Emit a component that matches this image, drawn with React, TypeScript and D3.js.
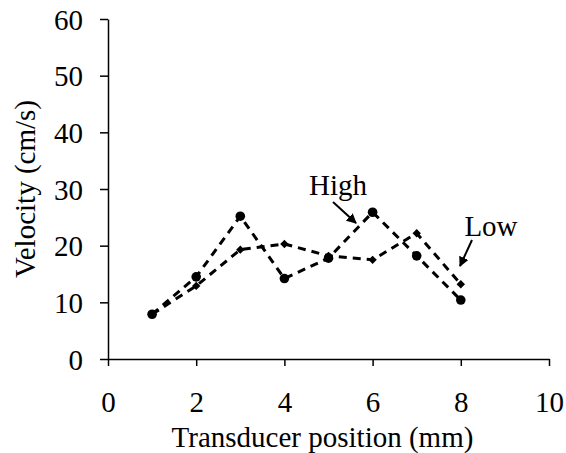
import * as d3 from "d3";
import { useEffect, useRef } from "react";

const positions = [1, 2, 3, 4, 5, 6, 7, 8];
const highVelocity = [7.9, 14.5, 25.2, 14.2, 17.8, 25.9, 18.2, 10.4];
const lowVelocity = [7.9, 12.9, 19.3, 20.3, 18.2, 17.5, 22.2, 13.2];
const xTicks = [0, 2, 4, 6, 8, 10];
const yTicks = [0, 10, 20, 30, 40, 50, 60];

const W = 566;
const H = 453;
const FONT = "'Liberation Serif', 'Times New Roman', serif";
const FS = "29px";

const App = () => {
  const svgRef = useRef<SVGSVGElement | null>(null);

  useEffect(() => {
    const svg = d3.select(svgRef.current);
    svg.selectAll("*").remove();

    const x = d3.scaleLinear().domain([0, 10]).range([108, 549]);
    const y = d3.scaleLinear().domain([0, 60]).range([359, 19]);

    const defs = svg.append("defs");
    defs
      .append("marker")
      .attr("id", "arrowhead")
      .attr("viewBox", "0 0 10 10")
      .attr("refX", 9)
      .attr("refY", 5)
      .attr("markerWidth", 5)
      .attr("markerHeight", 5)
      .attr("markerUnits", "strokeWidth")
      .attr("orient", "auto")
      .append("path")
      .attr("d", "M0,0 L10,5 L0,10 z")
      .attr("fill", "black");

    // axes
    const xAxis = svg
      .append("g")
      .attr("transform", `translate(0, ${y(0)})`)
      .call(d3.axisBottom(x).tickValues(xTicks).tickSize(7).tickSizeOuter(0));
    const yAxis = svg
      .append("g")
      .attr("transform", `translate(${x(0)}, 0)`)
      .call(d3.axisLeft(y).tickValues(yTicks).tickSize(8).tickSizeOuter(0));

    [xAxis, yAxis].forEach((g) => {
      g.attr("font-family", FONT).attr("font-size", FS);
      g.select(".domain").attr("stroke", "black").attr("stroke-width", 1.5);
      g.selectAll(".tick line").attr("stroke", "black").attr("stroke-width", 1.5);
      g.selectAll(".tick text").attr("fill", "black");
    });
    xAxis.selectAll(".tick text").attr("y", 53).attr("dy", "0");
    yAxis.selectAll(".tick text").attr("x", -25).attr("dy", "0.35em");

    svg
      .append("text")
      .attr("x", (x(0) + x(10)) / 2 - 6)
      .attr("y", 447)
      .attr("text-anchor", "middle")
      .style("font-family", FONT)
      .style("font-size", FS)
      .text("Transducer position (mm)");

    svg
      .append("text")
      .attr("transform", `translate(35, ${y(30)}) rotate(-90)`)
      .attr("text-anchor", "middle")
      .style("font-family", FONT)
      .style("font-size", FS)
      .text("Velocity (cm/s)");

    const line = d3
      .line<number>()
      .x((_, i) => x(positions[i]))
      .y((d) => y(d));

    [lowVelocity, highVelocity].forEach((vals) => {
      svg
        .append("path")
        .datum(vals)
        .attr("d", line)
        .attr("fill", "none")
        .attr("stroke", "black")
        .attr("stroke-width", 3)
        .attr("stroke-dasharray", "8,6");
    });

    svg
      .append("g")
      .selectAll("path")
      .data(lowVelocity)
      .enter()
      .append("path")
      .attr("d", d3.symbol().type(d3.symbolDiamond2).size(45))
      .attr("transform", (d, i) => `translate(${x(positions[i])}, ${y(d)})`)
      .attr("fill", "black");

    svg
      .append("g")
      .selectAll("circle")
      .data(highVelocity)
      .enter()
      .append("circle")
      .attr("cx", (_, i) => x(positions[i]))
      .attr("cy", (d) => y(d))
      .attr("r", 4.8)
      .attr("fill", "black");

    // annotations
    const notes = [
      { label: "High", tx: 338, ty: 195, x1: 333, y1: 202, x2: 356, y2: 223 },
      { label: "Low", tx: 491, ty: 236, x1: 472, y1: 240, x2: 460, y2: 266 },
    ];
    notes.forEach((n) => {
      svg
        .append("text")
        .attr("x", n.tx)
        .attr("y", n.ty)
        .attr("text-anchor", "middle")
        .style("font-family", FONT)
        .style("font-size", FS)
        .text(n.label);
      svg
        .append("line")
        .attr("x1", n.x1)
        .attr("y1", n.y1)
        .attr("x2", n.x2)
        .attr("y2", n.y2)
        .attr("stroke", "black")
        .attr("stroke-width", 2)
        .attr("marker-end", "url(#arrowhead)");
    });
  }, []);

  return (
    <svg
      ref={svgRef}
      width={W}
      height={H}
      style={{ position: "absolute", left: 0, top: 0, background: "white" }}
    />
  );
};

export default App;
